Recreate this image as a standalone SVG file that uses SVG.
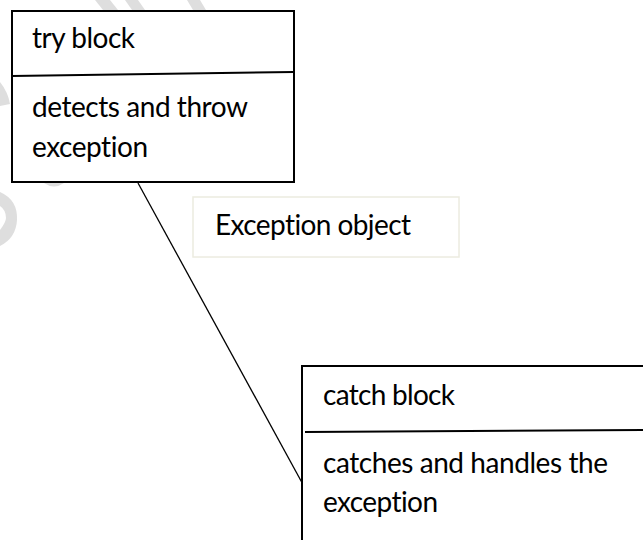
<svg xmlns="http://www.w3.org/2000/svg" width="643" height="540" viewBox="0 0 643 540">
  <style>
    .box { fill: #ffffff; stroke: #000000; stroke-width: 2; }
    .rule { stroke: #000000; stroke-width: 2; fill: none; }
    .label { font-family: Lato, "Open Sans", "Liberation Sans", sans-serif; font-size: 28px; fill: #000000; font-variant-ligatures: none; font-feature-settings: "liga" 0, "clig" 0; }
    .note { fill: #ffffff; stroke: #ecebe0; stroke-width: 1.5; }
    .link { stroke: #000000; stroke-width: 1.3; fill: none; }
    .wm { fill: #d6d6d6; opacity: 0.8; }
  </style>

  <rect width="643" height="540" fill="#ffffff"/>

  <!-- faint background marks -->
  <g id="background-marks">
    <path class="wm" d="M95,0 L110,0 L118,10 L103,10 Z"/>
    <path class="wm" d="M125,0 L138,0 L145,10 L132,10 Z"/>
    <path class="wm" d="M187,0 L200,0 L206,10 L193,10 Z"/>
    <path class="wm" d="M0,82 Q8,92 10,104 L0,106 Z"/>
    <path class="wm" d="M0,192 Q18,200 17,220 Q16,238 0,246 L0,230 Q6,222 6,218 Q6,210 0,206 Z"/>
    <path class="wm" d="M44,183 Q54,190 64,183 Z"/>
  </g>

  <g id="connectors">
    <line class="link" x1="138" y1="183" x2="306" y2="490"/>
  </g>

  <g id="try-block">
    <rect class="box" x="12" y="11" width="282" height="171"/>
    <path class="rule" d="M12,76 L294,72"/>
    <text class="label" x="32" y="48" textLength="103">try block</text>
    <text class="label" x="32" y="117" textLength="216">detects and throw</text>
    <text class="label" x="32" y="157" textLength="116">exception</text>
  </g>

  <g id="exception-object">
    <rect class="note" x="193" y="197" width="266" height="60"/>
    <text class="label" x="215" y="235" textLength="196">Exception object</text>
  </g>

  <g id="catch-block">
    <rect class="box" x="302" y="366" width="360" height="190"/>
    <path class="rule" d="M305,432 L643,430"/>
    <text class="label" x="323" y="405" textLength="132">catch block</text>
    <text class="label" x="323" y="473" textLength="285">catches and handles the</text>
    <text class="label" x="323" y="512" textLength="115">exception</text>
  </g>
</svg>
